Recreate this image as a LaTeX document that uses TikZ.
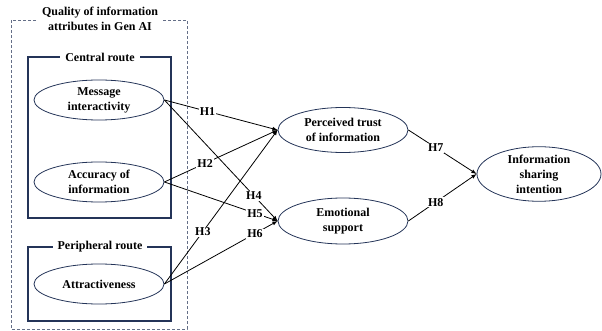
\documentclass[tikz,border=0pt]{standalone}
\usepackage{fontspec}
\setmainfont{Liberation Serif}
\usetikzlibrary{shapes.geometric}
\definecolor{boxblue}{RGB}{36,52,88}
\definecolor{dashblue}{RGB}{100,110,135}

\begin{document}
\begin{tikzpicture}[x=1pt, y=-1pt, >=latex, font=\bfseries\fontsize{12}{15}\selectfont,
    construct/.style={draw=boxblue, ellipse, line width=0.8pt, align=center, minimum width=130pt, minimum height=40pt, inner sep=0pt},
    routebox/.style={draw=boxblue, line width=1.1pt},
    boxtitle/.style={fill=white, inner xsep=5pt, inner ysep=1pt},
    hyp/.style={fill=white, inner sep=1pt},
    link/.style={->, line width=0.8pt}]
        \useasboundingbox (0,0) rectangle (602,331);
        % outer dashed frame and the two routes
        \draw[dashblue, dash pattern=on 3pt off 2pt, line width=0.7pt] (11,20) rectangle (187,329);
        \node[boxtitle, align=center] (quality) at (100,18.5) {Quality of information\\attributes in Gen AI};
        \draw[routebox] (28,57) rectangle (171,218);
        \node[boxtitle] (central) at (100,57) {Central route};
        \draw[routebox] (28,247) rectangle (171,321);
        \node[boxtitle] (peripheral) at (100,247) {Peripheral route};

        \node[construct] (message) at (99,100) {Message\\interactivity};
        \node[construct] (accuracy) at (99,182) {Accuracy of\\information};
        \node[construct] (attract) at (99,284) {Attractiveness};
        \node[construct, minimum height=45pt] (trust) at (343,130) {Perceived trust\\of information};
        \node[construct, minimum height=46pt] (emotion) at (343,221) {Emotional\\support};
        \node[construct, minimum width=124pt, minimum height=48pt] (sharing) at (539,174) {Information\\sharing\\intention};

        \draw[link] (message.east) -- (trust.west) node[hyp, pos=.38] {H1};
        \draw[link] (accuracy.east) -- (trust.west) node[hyp, pos=.36] {H2};
        \draw[link] (attract.east) -- (trust.west) node[hyp, pos=.34] {H3};
        \draw[link] (message.east) -- (emotion.west) node[hyp, pos=.79] {H4};
        \draw[link] (accuracy.east) -- (emotion.west) node[hyp, pos=.8] {H5};
        \draw[link] (attract.east) -- (emotion.west) node[hyp, pos=.8] {H6};
        \draw[link] (trust.east) -- (sharing.west) node[hyp, pos=.4] {H7};
        \draw[link] (emotion.east) -- (sharing.west) node[hyp, pos=.4] {H8};
    \end{tikzpicture}
\end{document}
